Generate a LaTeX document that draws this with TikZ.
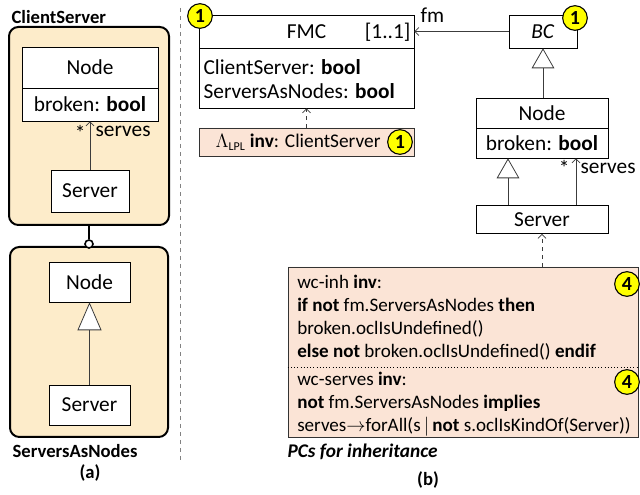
\documentclass[tikz,border=0pt]{standalone}
\usepackage{fontspec}
\setmainfont{Carlito}
\usetikzlibrary{positioning,arrows.meta,calc,shapes.misc}
\definecolor{cfgfill}{RGB}{253,236,202}
\definecolor{notefill}{RGB}{251,228,214}
\definecolor{linec}{RGB}{60,60,60}
\definecolor{sepc}{RGB}{130,130,130}
\definecolor{badgec}{RGB}{255,255,0}

\begin{document}
\begin{tikzpicture}[
  x=0.75pt, y=-0.75pt,
  font=\fontsize{16}{18}\selectfont,
  cfg/.style={draw=black, line width=1.5pt, fill=cfgfill, rounded corners=7pt},
  cls/.style={draw=black, fill=white, inner sep=2pt, align=center},
  note/.style={draw=black!80, fill=notefill, chamfered rectangle,
               chamfered rectangle corners=north west,
               chamfered rectangle xsep=2.5pt, chamfered rectangle ysep=2.5pt,
               inner sep=0pt},
  ocl/.style={inner sep=0pt, align=left, font=\fontsize{14.3}{17.25}\selectfont},
  capt/.style={inner sep=1pt, font=\fontsize{14}{15}\selectfont\bfseries},
  badge/.style={circle, draw=black, thick, fill=badgec, inner sep=0pt,
                minimum size=18.5pt, font=\fontsize{15}{15}\selectfont\bfseries},
  joint/.style={circle, draw=black, line width=1.2pt, fill=white,
                inner sep=0pt, minimum size=6pt},
  inherit/.style={draw=linec, semithick,
                  -{Triangle[open, length=15pt, width=17pt, fill=white]}},
  assoc/.style={draw=linec, semithick, -{Straight Barb[length=3pt, width=6pt]}},
  dep/.style={assoc, dashed},
  lbl/.style={inner sep=1pt},
]
\useasboundingbox (0,0) rectangle (640,495);

% ---------- (a): the two configurations ----------
\node[cfg, minimum width=120pt, minimum height=148.5pt] (csframe) at (89,126) {};
\node[cfg, minimum width=118.5pt, minimum height=142.5pt] (snframe) at (89,342) {};
\node[joint] (csjoin) at (89,244) {};
\draw[line width=1.2pt] (csframe.south) -- (csjoin.north);

\node[capt, anchor=west] (cslbl) at (10,17) {ClientServer};
\node[cls, minimum width=102pt, minimum height=30.75pt] (csnode) at (90,67.5) {Node};
\node[cls, minimum width=102pt, minimum height=24.75pt] (csattr) at (90,104.5)
  {broken: \textbf{bool}};
\node[cls, minimum width=58.5pt, minimum height=31.5pt] (csserver) at (90,191) {Server};
\draw[assoc] (csserver.north) -- (csattr.south);
\node[lbl, anchor=east] (csmult) at (87,133) {*};
\node[lbl, anchor=west] (csrole) at (94,131) {serves};

\node[cls, minimum width=60.75pt, minimum height=30pt] (snnode) at (89.5,282) {Node};
\node[cls, minimum width=60.75pt, minimum height=30pt] (snserver) at (89.5,405) {Server};
\draw[inherit, -{Triangle[open, length=21pt, width=18pt, fill=white]}]
  (snserver.north) -- (snnode.south);
\node[capt, anchor=west] (snlbl) at (11,451) {ServersAsNodes};
\node[capt] (capa) at (90,473) {(a)};

\draw[dashed, color=sepc] (180,8) -- (180,462);

% ---------- (b): base classes and the feature model class ----------
\node[cls, minimum width=161.25pt, minimum height=24.75pt] (fmc) at (306.5,31.5) {FMC};
\node[lbl, anchor=east] (fmcmult) at (412,32) {[1..1]};
\node[cls, minimum width=161.25pt, minimum height=45pt] (fmcattr) at (306.5,78) {};
\node[lbl, anchor=west, align=left] (fmctext) at (202,79)
  {ClientServer: \textbf{bool}\\ServersAsNodes: \textbf{bool}};
\node[badge] (fmcbadge) at (200,16) {1};

\node[note, minimum width=161.25pt, minimum height=21pt] (lplnote) at (306.5,142) {};
\node[lbl, anchor=west, font=\fontsize{14.5}{17}\selectfont] (lpltext) at (214,142)
  {$\Lambda_{\hbox{\fontsize{9}{9}\selectfont LPL}}$ \textbf{inv}: ClientServer};
\node[badge] (lplbadge) at (400,142) {1};
\draw[dep] (lplnote.north) -- (fmcattr.south);

\node[cls, minimum width=51pt, minimum height=24.75pt] (bc) at (543,31.5) {\textit{BC}};
\node[badge] (bcbadge) at (575,18) {1};
\draw[assoc] (bc.west) -- (bc.west -| fmc.east);
\node[lbl, anchor=west] (fmrole) at (419,15) {fm};

\node[cls, minimum width=99pt, minimum height=22.5pt] (bcnode) at (542,113) {Node};
\node[cls, minimum width=99pt, minimum height=22.5pt] (bcattr) at (542,143)
  {broken: \textbf{bool}};
\node[cls, minimum width=99pt, minimum height=21pt] (bcserver) at (542,219.5) {Server};
\draw[inherit] (bcnode.north -| bc.south) -- (bc.south);
\draw[inherit] ([xshift=-25.5pt]bcserver.north) -- ([xshift=-25.5pt]bcattr.south);
\draw[assoc] ([xshift=25.5pt]bcserver.north) -- ([xshift=25.5pt]bcattr.south);
\node[lbl, anchor=east] (bcmult) at (571,168) {*};
\node[lbl, anchor=west] (bcrole) at (579,168) {serves};

% ---------- (b): well-formedness constraints ----------
\node[note, minimum width=262.5pt, minimum height=127.5pt] (pcnote) at (463,352) {};
\draw[dotted] (pcnote.west |- 0,367) -- (pcnote.east |- 0,367);
\draw[dep] (pcnote.north -| bcserver.south) -- (bcserver.south);
\node[ocl, anchor=north west] (inhtext) at (297,275)
  {wc-inh \textbf{inv}:\\
   \textbf{if not} fm.ServersAsNodes \textbf{then}\\
   broken.oclIsUndefined()\\
   \textbf{else not} broken.oclIsUndefined() \textbf{endif}};
\node[ocl, anchor=north west] (servtext) at (297,372)
  {wc-serves \textbf{inv}:\\
   \textbf{not} fm.ServersAsNodes \textbf{implies}\\
   serves$\rightarrow$forAll(s\,$|$\,\textbf{not} s.oclIsKindOf(Server))};
\node[badge] (inhbadge) at (627,284) {4};
\node[badge] (servbadge) at (627,382) {4};

\node[capt, anchor=west, font=\fontsize{14.5}{16}\selectfont\bfseries\itshape]
  (pccap) at (286,452) {PCs for inheritance};
\node[capt] (capb) at (428,480) {(b)};

\end{tikzpicture}
\end{document}
